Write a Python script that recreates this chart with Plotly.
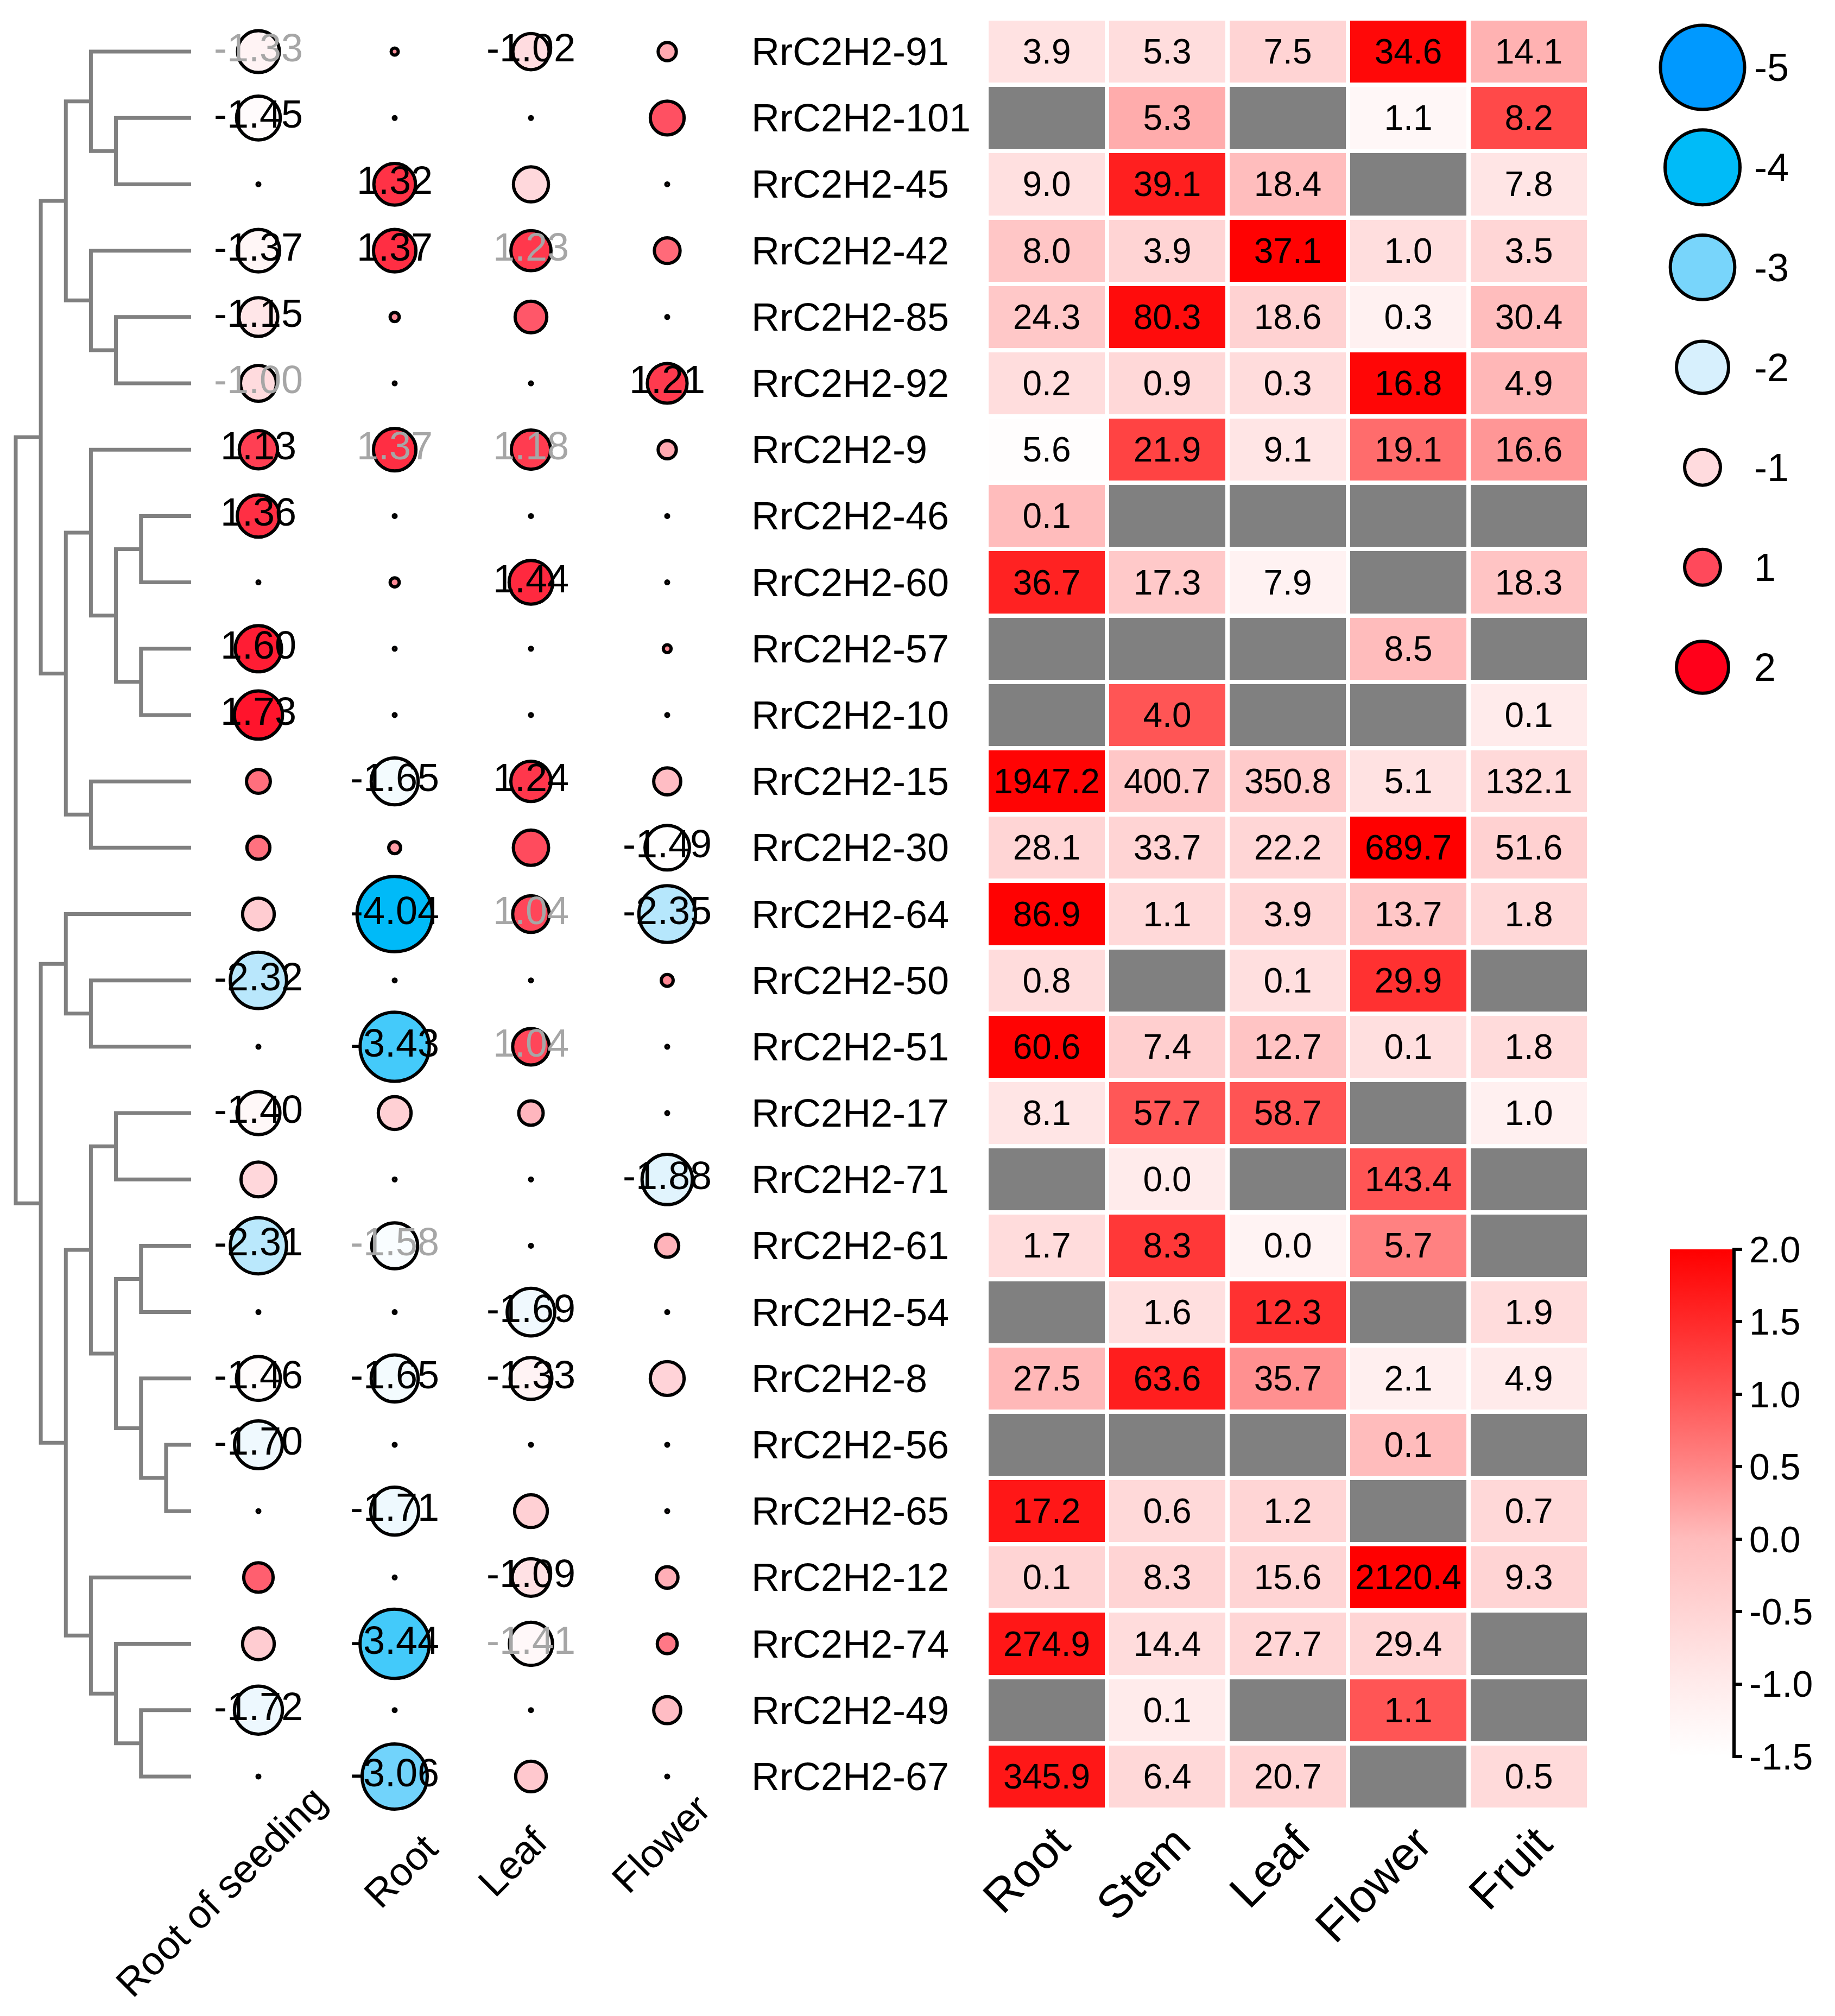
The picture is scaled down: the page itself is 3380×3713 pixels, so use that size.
import numpy as np
import plotly.graph_objects as go

W, H = 3380, 3713
FONT = "Liberation Sans, Arial, sans-serif"

# Geny (řádky shora dolů)
genes = ["RrC2H2-91", "RrC2H2-101", "RrC2H2-45", "RrC2H2-42", "RrC2H2-85", "RrC2H2-92",
         "RrC2H2-9", "RrC2H2-46", "RrC2H2-60", "RrC2H2-57", "RrC2H2-10", "RrC2H2-15",
         "RrC2H2-30", "RrC2H2-64", "RrC2H2-50", "RrC2H2-51", "RrC2H2-17", "RrC2H2-71",
         "RrC2H2-61", "RrC2H2-54", "RrC2H2-8", "RrC2H2-56", "RrC2H2-65", "RrC2H2-12",
         "RrC2H2-74", "RrC2H2-49", "RrC2H2-67"]

# Bublinový graf (log2 fold change)
bubble_cols = ["Root of seeding", "Root", "Leaf", "Flower"]
bubble_values = [
    [-1.33, 0.07, -1.02, -0.30],
    [-1.45, 0.00, 0.00, 0.90],
    [0.00, 1.32, -0.96, 0.00],
    [-1.37, 1.37, 1.23, 0.55],
    [-1.15, 0.10, 0.80, 0.00],
    [-1.00, 0.00, 0.00, 1.21],
    [1.13, 1.37, 1.18, -0.30],
    [1.36, 0.00, 0.00, 0.00],
    [0.00, 0.10, 1.44, 0.00],
    [1.60, 0.00, 0.00, 0.08],
    [1.73, 0.00, 0.00, 0.00],
    [0.48, -1.65, 1.24, -0.60],
    [0.45, -0.15, 0.97, -1.49],
    [-0.80, -4.04, 1.04, -2.35],
    [-2.32, 0.00, 0.00, 0.15],
    [0.00, -3.43, 1.04, 0.00],
    [-1.40, -0.85, -0.50, 0.00],
    [-0.95, 0.00, 0.00, -1.88],
    [-2.31, -1.58, 0.00, -0.45],
    [0.00, 0.00, -1.69, 0.00],
    [-1.46, -1.65, -1.33, -0.90],
    [-1.70, 0.00, 0.00, 0.00],
    [0.00, -1.71, -0.85, 0.00],
    [0.70, 0.00, -1.09, -0.40],
    [-0.80, -3.44, -1.41, 0.35],
    [-1.72, 0.00, 0.00, -0.60],
    [0.00, -3.06, -0.75, 0.00],
]
# hodnoty se šedým popiskem (gen, tkáň)
faded = [("RrC2H2-91", "Root of seeding"), ("RrC2H2-42", "Leaf"), ("RrC2H2-92", "Root of seeding"),
         ("RrC2H2-9", "Root"), ("RrC2H2-9", "Leaf"), ("RrC2H2-64", "Leaf"),
         ("RrC2H2-51", "Leaf"), ("RrC2H2-61", "Root"), ("RrC2H2-74", "Leaf")]

# Heatmapa (FPKM), None = chybí
heat_cols = ["Root", "Stem", "Leaf", "Flower", "Fruit"]
heat_values = [
    [3.9, 5.3, 7.5, 34.6, 14.1],
    [None, 5.3, None, 1.1, 8.2],
    [9.0, 39.1, 18.4, None, 7.8],
    [8.0, 3.9, 37.1, 1.0, 3.5],
    [24.3, 80.3, 18.6, 0.3, 30.4],
    [0.2, 0.9, 0.3, 16.8, 4.9],
    [5.6, 21.9, 9.1, 19.1, 16.6],
    [0.1, None, None, None, None],
    [36.7, 17.3, 7.9, None, 18.3],
    [None, None, None, 8.5, None],
    [None, 4.0, None, None, 0.1],
    [1947.2, 400.7, 350.8, 5.1, 132.1],
    [28.1, 33.7, 22.2, 689.7, 51.6],
    [86.9, 1.1, 3.9, 13.7, 1.8],
    [0.8, None, 0.1, 29.9, None],
    [60.6, 7.4, 12.7, 0.1, 1.8],
    [8.1, 57.7, 58.7, None, 1.0],
    [None, 0.0, None, 143.4, None],
    [1.7, 8.3, 0.0, 5.7, None],
    [None, 1.6, 12.3, None, 1.9],
    [27.5, 63.6, 35.7, 2.1, 4.9],
    [None, None, None, 0.1, None],
    [17.2, 0.6, 1.2, None, 0.7],
    [0.1, 8.3, 15.6, 2120.4, 9.3],
    [274.9, 14.4, 27.7, 29.4, None],
    [None, 0.1, None, 1.1, None],
    [345.9, 6.4, 20.7, None, 0.5],
]

# Legenda velikosti bublin
size_legend = [-5, -4, -3, -2, -1, 1, 2]
cbar_ticks = [-1.5, -1.0, -0.5, 0.0, 0.5, 1.0, 1.5, 2.0]

# Dendrogram: (uzel a, uzel b, výška); listy 0..26, nové uzly od 27
merges = [
    (1, 2, 3), (0, 27, 4), (4, 5, 3), (3, 29, 4), (28, 30, 5),
    (7, 8, 2), (9, 10, 2), (32, 33, 3), (6, 34, 4), (11, 12, 4),
    (35, 36, 5), (31, 37, 6), (14, 15, 4), (13, 39, 5), (16, 17, 3),
    (18, 19, 2), (21, 22, 1), (20, 43, 2), (42, 44, 3), (41, 45, 4),
    (25, 26, 2), (24, 47, 3), (23, 48, 4), (46, 49, 5), (40, 50, 6),
    (38, 51, 7),
]

rows = np.arange(len(genes))
bv = np.array(bubble_values, dtype=float)
hv = np.array(heat_values, dtype=float)

# z-skóre po řádcích pro barvu heatmapy
mean = np.nanmean(hv, axis=1, keepdims=True)
sd = np.nanstd(hv, axis=1, keepdims=True)
with np.errstate(invalid="ignore", divide="ignore"):
    hz = (hv - mean) / sd
hz[np.isfinite(hv) & ~np.isfinite(hz)] = 0.0

bubble_scale = [[0, "#0099ff"], [1 / 7, "#00bbf8"], [2 / 7, "#78d5fb"], [3 / 7, "#d7f0fd"],
                [0.5, "#ffffff"], [1, "#ff001a"]]
heat_scale = [[0, "#ffffff"], [0.1429, "#ffebeb"], [0.2857, "#ffd4d4"], [0.4286, "#ffbcbc"],
              [0.5714, "#ff8585"], [0.7143, "#ff5555"], [0.8571, "#ff2a2a"], [1, "#ff0000"]]


def bubble_px(v):
    return np.maximum(72 * np.sqrt(np.abs(v)) - 6, 5)


def px_x(p):
    return p / W


def px_y(p):
    return 1 - p / H


fig = go.Figure()

# --- dendrogram ---
pos = {i: (float(i), 0.0) for i in rows}
dx, dy = [], []
for k, (a, b, h) in enumerate(merges):
    ya, ha = pos[a]
    yb, hb = pos[b]
    dx += [ha, h, h, hb, None]
    dy += [ya, ya, yb, yb, None]
    pos[len(genes) + k] = ((ya + yb) / 2, h)
fig.add_trace(go.Scatter(x=dx, y=dy, mode="lines", xaxis="x4", yaxis="y",
                         line=dict(color="#808080", width=7), hoverinfo="skip"))

# --- bubliny ---
bx, by, bval, btxt, bcol = [], [], [], [], []
for i, g in enumerate(genes):
    for j, c in enumerate(bubble_cols):
        v = bv[i, j]
        bx.append(c)
        by.append(i)
        bval.append(v)
        btxt.append(f"{v:.2f}" if abs(v) >= 1 else "")
        bcol.append("#a6a6a6" if (g, c) in faded else "black")
bval = np.array(bval)
fig.add_trace(go.Scatter(
    x=bx, y=by, mode="markers+text", xaxis="x", yaxis="y",
    text=btxt, textposition="middle center",
    textfont=dict(size=72, color=bcol, family=FONT),
    marker=dict(size=bubble_px(bval), color=bval, colorscale=bubble_scale, cmin=-5, cmax=2,
                line=dict(color="black", width=6), opacity=1),
    cliponaxis=False, hoverinfo="skip"))

# --- legenda velikosti ---
lv = np.array(size_legend, dtype=float)
fig.add_trace(go.Scatter(
    x=[0] * len(size_legend), y=[str(v) for v in size_legend], mode="markers",
    xaxis="x3", yaxis="y3",
    marker=dict(size=bubble_px(lv), color=lv, colorscale=bubble_scale, cmin=-5, cmax=2,
                line=dict(color="black", width=6), opacity=1),
    cliponaxis=False, hoverinfo="skip"))

# --- heatmapa ---
fig.add_trace(go.Heatmap(
    z=np.zeros_like(hv), x=heat_cols, y=rows, xaxis="x2", yaxis="y",
    colorscale=[[0, "#808080"], [1, "#808080"]], showscale=False,
    xgap=8, ygap=8, hoverinfo="skip"))
htxt = [["" if not np.isfinite(v) else f"{v:.1f}" for v in r] for r in hv]
cb_top, cb_bot, cb_left = 2293, 3227, 3068
fig.add_trace(go.Heatmap(
    z=np.where(np.isfinite(hv), hz, np.nan), x=heat_cols, y=rows, xaxis="x2", yaxis="y",
    text=htxt, texttemplate="%{text}", textfont=dict(size=64, color="black", family=FONT),
    colorscale=heat_scale, zmin=-1.5, zmax=2.0, xgap=8, ygap=8, hoverinfo="skip",
    colorbar=dict(x=px_x(cb_left), xanchor="left", xpad=0, ypad=0,
                  y=px_y((cb_top + cb_bot) / 2), yanchor="middle",
                  len=cb_bot - cb_top, lenmode="pixels", thickness=115,
                  outlinewidth=0, ticks="outside", ticklen=18, tickwidth=6, tickcolor="black",
                  tickvals=cbar_ticks, ticktext=[f"{t:.1f}" for t in cbar_ticks],
                  tickfont=dict(size=68, color="black", family=FONT))))

# popisky genů
for i, g in enumerate(genes):
    fig.add_annotation(x=px_x(1374), xref="paper", y=i, yref="y", text=g, showarrow=False,
                       xanchor="left", yanchor="middle", font=dict(size=72, color="black", family=FONT))

# popisky sloupců (otočené o 45°), ruční doladění polohy
label_nudge = {"Root of seeding": (46, -42), "Root": (0, 47), "Leaf": (-49, 33), "Flower": (0, -26)}
for c in bubble_cols:
    nx, ny = label_nudge[c]
    fig.add_annotation(x=c, xref="x", y=px_y(3305 + ny), yref="paper", text=c, showarrow=False,
                       textangle=-45, xanchor="right", yanchor="top", xshift=97 + nx,
                       font=dict(size=73, color="black", family=FONT))
for c in heat_cols:
    fig.add_annotation(x=c, xref="x2", y=px_y(3334), yref="paper", text=c, showarrow=False,
                       textangle=-45, xanchor="right", yanchor="top", xshift=63,
                       font=dict(size=86, color="black", family=FONT))

y_dom = [px_y(3325), px_y(26)]
noaxis = dict(showgrid=False, zeroline=False, showline=False, ticks="", automargin=False)
fig.update_layout(
    width=W, height=H, margin=dict(l=0, r=0, t=0, b=0, autoexpand=False),
    paper_bgcolor="white", plot_bgcolor="white", showlegend=False,
    font=dict(family=FONT, color="black"),
    xaxis=dict(domain=[px_x(342.5), px_x(1346.5)], anchor="y", type="category",
               range=[-0.5, 3.5], showticklabels=False, **noaxis),
    xaxis2=dict(domain=[px_x(1809), px_x(2919)], anchor="y", type="category",
                range=[-0.5, 4.5], showticklabels=False, **noaxis),
    xaxis3=dict(domain=[px_x(3034), px_x(3222)], anchor="y3", range=[-1, 1],
                showticklabels=False, **noaxis),
    xaxis4=dict(domain=[px_x(10), px_x(355)], anchor="y", range=[7.238, -0.238],
                showticklabels=False, **noaxis),
    yaxis=dict(domain=y_dom, anchor="x", range=[len(genes) - 0.5, -0.5],
               showticklabels=False, **noaxis),
    yaxis3=dict(domain=[px_y(1313), px_y(24)], anchor="x3", type="category",
                range=[len(size_legend) - 0.5, -0.5], side="right",
                tickfont=dict(size=72), **noaxis),
)

# osa barevné škály
fig.add_shape(type="line", xref="paper", yref="paper", x0=px_x(cb_left + 118), x1=px_x(cb_left + 118),
              y0=px_y(cb_top), y1=px_y(cb_bot), line=dict(color="black", width=6))

fig.write_html("out.html")
